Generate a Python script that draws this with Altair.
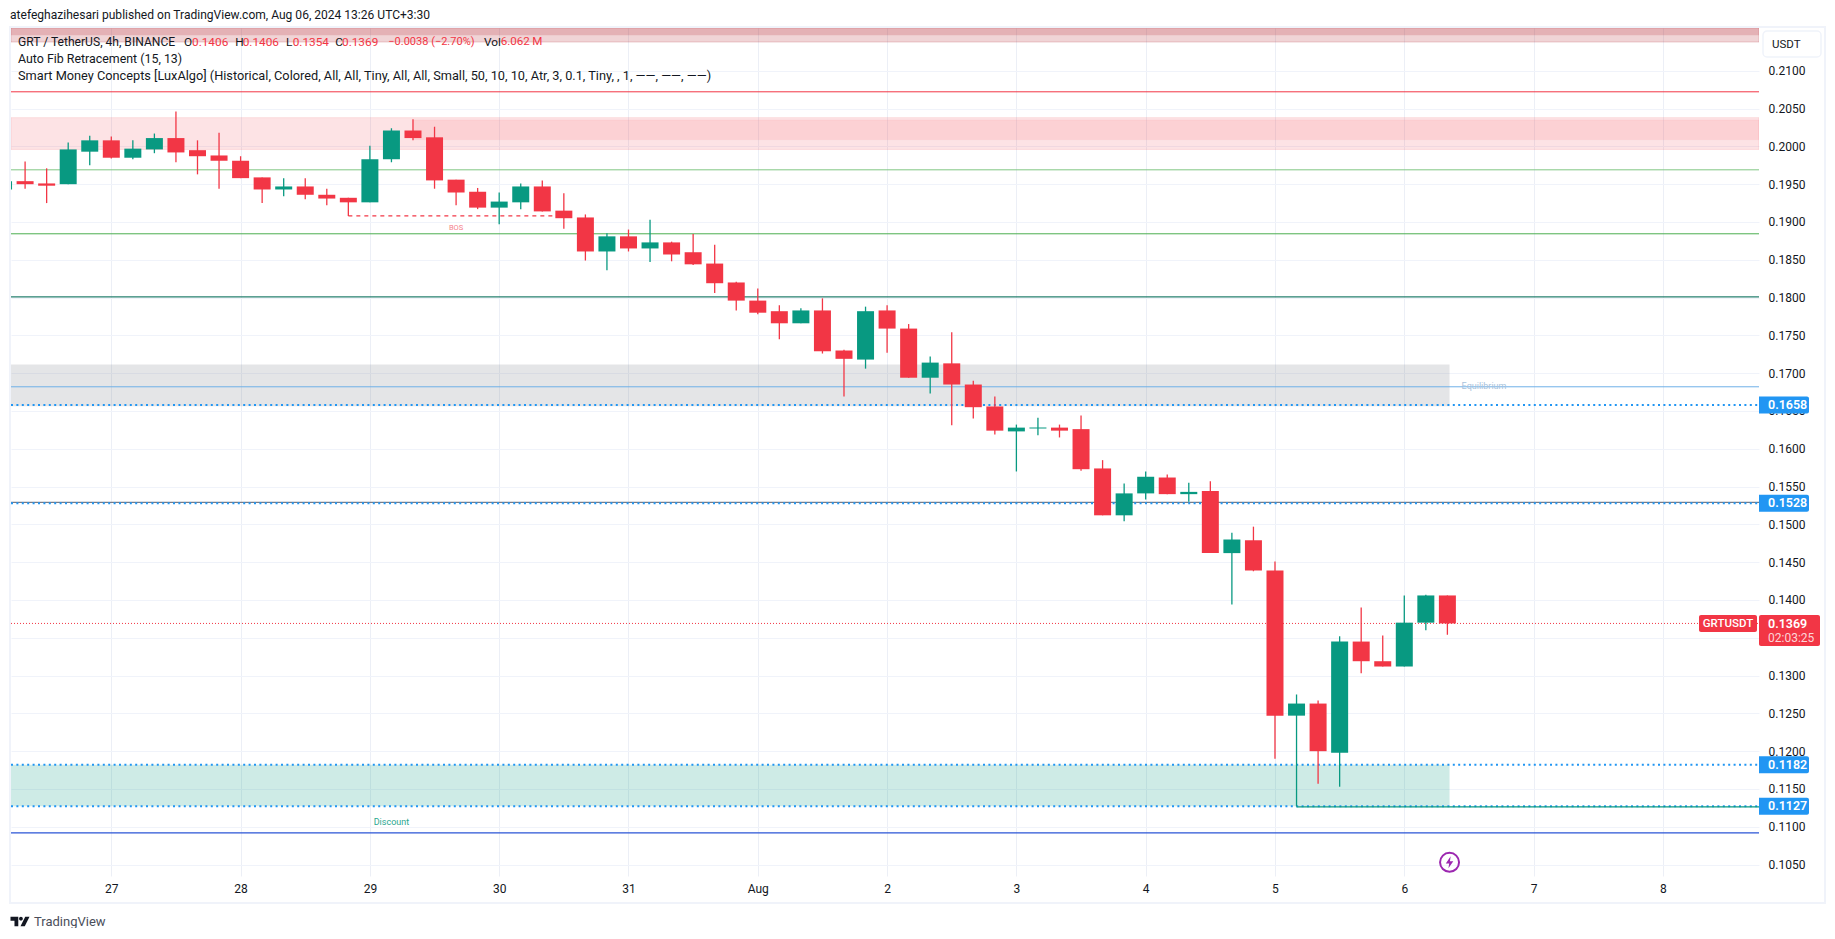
import altair as alt
import pandas as pd

# 4h candles, index 0 = 27 Jul 00:00
first_index = -5
opens  = [.1943,.1954,.1951,.1950,.1993,.2008,.1985,.1996,.2011,.1995,.1988,.1981,.1959,.1943,.1947,.1936,.1932,.1926,.1983,.2021,.2012,.1956,.1940,.1919,.1926,.1947,.1915,.1906,.1861,.1881,.1865,.1873,.1860,.1845,.1820,.1796,.1782,.1766,.1783,.1730,.1718,.1783,.1759,.1694,.1713,.1685,.1656,.1623,.1627,.1628,.1626,.1574,.1512,.1541,.1562,.1540,.1544,.1462,.1479,.1439,.1247,.1263,.1198,.1345,.1319,.1312,.1370,.1406]
highs  = [.1960,.1980,.1971,.2005,.2014,.2013,.2008,.2017,.2046,.2008,.2018,.1987,.1959,.1958,.1958,.1944,.1932,.2001,.2024,.2036,.2026,.1956,.1945,.1939,.1951,.1955,.1938,.1910,.1885,.1890,.1903,.1874,.1884,.1870,.1821,.1812,.1790,.1786,.1799,.1731,.1788,.1790,.1765,.1722,.1754,.1690,.1669,.1632,.1641,.1632,.1644,.1585,.1554,.1570,.1566,.1555,.1557,.1489,.1497,.1451,.1275,.1267,.1352,.1390,.1353,.1406,.1407,.1406]
lows   = [.1935,.1944,.1925,.1950,.1975,.1984,.1983,.1991,.1979,.1963,.1944,.1958,.1925,.1934,.1930,.1922,.1908,.1926,.1979,.2008,.1944,.1922,.1917,.1897,.1917,.1914,.1891,.1849,.1836,.1861,.1847,.1848,.1843,.1806,.1783,.1778,.1745,.1766,.1726,.1669,.1706,.1727,.1694,.1673,.1631,.1640,.1619,.1570,.1618,.1615,.1571,.1512,.1504,.1533,.1540,.1530,.1462,.1394,.1438,.1190,.1127,.1157,.1153,.1303,.1312,.1312,.1360,.1354]
closes = [.1954,.1950,.1948,.1996,.2008,.1985,.1997,.2011,.1992,.1987,.1981,.1958,.1943,.1947,.1936,.1931,.1926,.1983,.2021,.2011,.1955,.1939,.1919,.1927,.1947,.1914,.1905,.1861,.1881,.1865,.1873,.1857,.1844,.1819,.1796,.1780,.1766,.1783,.1729,.1719,.1782,.1759,.1694,.1714,.1685,.1655,.1624,.1628,.1628,.1624,.1573,.1512,.1541,.1563,.1540,.1543,.1462,.1480,.1439,.1247,.1263,.1200,.1345,.1319,.1312,.1370,.1406,.1369]

price_ticks = [.105,.11,.115,.12,.125,.13,.135,.14,.145,.15,.155,.16,.165,.17,.175,.18,.185,.19,.195,.20,.205,.21]
day_ticks = [0,6,12,18,24,30,36,42,48,54,60,66,72]
day_labels = ["27","28","29","30","31","Aug","2","3","4","5","6","7","8"]
marked_levels = [.1658, .1528, .1182, .1127]

GREEN, RED, BLUE = "#089981", "#f23645", "#2196f3"
INK = "#131722"

XDOM = [-4.654, 76.46]
YDOM = [.10349, .21566]
xs = alt.Scale(domain=XDOM, nice=False, zero=False, padding=0)
ys = alt.Scale(domain=YDOM, nice=False, zero=False, padding=0)

label_map = "{" + ",".join(f"'{t}':'{l}'" for t, l in zip(day_ticks, day_labels)) + "}"
x_axis = alt.Axis(title=None, values=day_ticks, labelExpr=label_map + "[datum.value]", grid=True,
                  gridColor="#eceff6", gridWidth=1, ticks=False, domain=False, labelPadding=7,
                  labelFont="Roboto", labelFontSize=12, labelColor=INK, labelAngle=0, labelFlush=False)
y_axis = alt.Axis(title=None, orient="right", values=price_ticks, format=".4f", grid=True,
                  gridColor="#f0f3fa", gridWidth=1, ticks=False, domain=False, labelPadding=9,
                  labelFont="Roboto", labelFontSize=12, labelColor=INK, labelFlush=False)

df = pd.DataFrame({
    "i": [first_index + k for k in range(len(opens))],
    "o": opens, "h": highs, "l": lows, "c": closes,
})
df["dir"] = ["up" if c >= o else "down" for o, c in zip(opens, closes)]
color = alt.Color("dir:N", scale=alt.Scale(domain=["up", "down"], range=[GREEN, RED]), legend=None)

blank = alt.Data(values=[{"k": 0}])
layers = []


def X(f="x"):
    return alt.X(f"{f}:Q", scale=xs, axis=x_axis)


def Y(f="y"):
    return alt.Y(f"{f}:Q", scale=ys, axis=y_axis)


def zone(top, bottom, start, end, fill, op, stroke=None, sop=0.0):
    d = pd.DataFrame({"x": [start], "x2": [end], "y": [top], "y2": [bottom]})
    kw = {"stroke": stroke, "strokeOpacity": sop, "strokeWidth": 1} if stroke else {}
    layers.append(alt.Chart(d).mark_rect(fill=fill, fillOpacity=op, clip=True, **kw).encode(
        x=X(), x2="x2:Q", y=Y(), y2="y2:Q"))


def level(price, col, width=1.0, dash=None, start=None, end=None):
    d = pd.DataFrame({"x": [XDOM[0] if start is None else start], "x2": [XDOM[1] if end is None else end], "y": [price]})
    kw = {"strokeDash": dash} if dash else {}
    layers.append(alt.Chart(d).mark_rule(color=col, strokeWidth=width, clip=True, **kw).encode(
        x=X(), x2="x2:Q", y=Y()))


def note(text, xi, p, col, size, **kw):
    d = pd.DataFrame({"x": [xi], "y": [p]})
    layers.append(alt.Chart(d).mark_text(text=text, color=col, fontSize=size, font="Roboto", **kw).encode(x=X(), y=Y()))


def px_text(text, x, y, col=INK, size=12, align="left", **kw):
    layers.append(alt.Chart(blank).mark_text(text=text, color=col, fontSize=size, font="Roboto",
                                             align=align, baseline="middle", **kw).encode(
        x=alt.value(x), y=alt.value(y)))


def px_box(x, x2, y, y2, **kw):
    layers.append(alt.Chart(blank).mark_rect(**kw).encode(
        x=alt.value(x), x2=alt.value(x2), y=alt.value(y), y2=alt.value(y2)))


# zones
zone(YDOM[1], .2147, XDOM[0], XDOM[1], "#b22833", .2)
zone(YDOM[1], .2138, XDOM[0], XDOM[1], "#b22833", .2, "#b22833", .2)
zone(.2038, .1996, XDOM[0], XDOM[1], RED, .14, RED, .12)
zone(.2035, .2009, 14, XDOM[1], RED, .10, RED, .05)
zone(.17115, .16564, XDOM[0], 62.1, "#787b86", .2)
zone(.1182, .1127, XDOM[0], 62.1, GREEN, .2)

# horizontal levels
level(.20722, RED)
level(.1969, "#81c784")
level(.18844, "#4caf50")
level(.1801, "#26806f", 1.2)
level(.1682, "#6fb0e8")
level(.1529, "#787b86", 1.2)
level(.1092, "#2a55d6", 1.2)
for lv in marked_levels:
    level(lv, BLUE, 2, [2, 3.4])
level(.1369, RED, 1, [1, 2])
level(.11264, GREEN, 1.3, None, 55)
level(.1908, RED, 1.3, [4, 4], 11, 21)

# candles
layers.append(alt.Chart(df).mark_rule(strokeWidth=1.3, clip=True).encode(
    x=alt.X("i:Q", scale=xs, axis=x_axis), y=alt.Y("h:Q", scale=ys, axis=y_axis), y2="l:Q", color=color))
layers.append(alt.Chart(df).mark_bar(size=17, clip=True, orient="vertical").encode(
    x=alt.X("i:Q", scale=xs, axis=x_axis), y=alt.Y("o:Q", scale=ys, axis=y_axis), y2="c:Q", color=color))

note("BOS", 16, .18918, "#f5818b", 7.5, align="center", baseline="middle")
note("Discount", 13, .11061, "#2aa78f", 9, align="center", baseline="middle")
note("Equilibrium", 63.7, .16837, "#a9c3dc", 9, align="center", baseline="middle")

# lightning icon
d_icon = pd.DataFrame({"x": [62.1], "y": [.1053]})
layers.append(alt.Chart(d_icon).mark_point(shape="circle", size=361, filled=False, stroke="#9c27b0", strokeWidth=2, opacity=1).encode(x=X(), y=Y()))
layers.append(alt.Chart(d_icon).mark_point(shape="M.15 -.8 L-.5 .15 H-.05 L-.15 .8 L.5 -.15 H.05 Z", size=225, filled=True, fill="#9c27b0", stroke=None, opacity=1).encode(x=X(), y=Y()))

# frame (plot origin is page 11,28)
px_box(-1, 1814, -1, 875, fill="transparent", stroke="#f0f3fa", strokeWidth=2)
px_box(1752, 1810, 3, 29, fill="white", stroke="#f0f3fa", strokeWidth=1.5, cornerRadius=4)
px_text("USDT", 1761, 16.5, size=11.5)

# header and legend
px_text("atefeghazihesari published on TradingView.com, Aug 06, 2024 13:26 UTC+3:30", -1, -13, size=12.05)
px_text("GRT / TetherUS, 4h, BINANCE", 7, 13.7, size=12.1)
for head, hx, val, vx in [("O", 173, "0.1406", 181), ("H", 224.3, "0.1406", 231.7), ("L", 275, "0.1354", 281.7), ("C", 324.3, "0.1369", 331)]:
    px_text(head, hx, 13.7, size=11.8)
    px_text(val, vx, 13.7, col=RED, size=11.8)
px_text("\u22120.0038 (\u22122.70%)", 377.3, 13.7, col=RED, size=11)
px_text("Vol", 473, 13.7, size=11.8)
px_text("6.062\u2009M", 489.7, 13.7, col=RED, size=11.6)
px_text("Auto Fib Retracement (15, 13)", 7, 31, size=12.4)
px_text("Smart Money Concepts [LuxAlgo] (Historical, Colored, All, All, Tiny, All, All, Small, 50, 10, 10, Atr, 3, 0.1, Tiny, , 1, \u2014\u2014, \u2014\u2014, \u2014\u2014)", 7, 48, size=12.75)

# price labels
for p in marked_levels:
    d = pd.DataFrame({"x": [XDOM[1]], "y": [p], "t": [f"{p:.4f}"]})
    layers.append(alt.Chart(d).mark_rect(fill=BLUE, width=50, height=17, clip=False, cornerRadiusBottomRight=2, cornerRadiusTopRight=2, xOffset=25).encode(
        x=X(), y=Y()))
    layers.append(alt.Chart(d).mark_text(color="white", fontSize=12.5, font="Roboto", fontWeight=600, align="left", baseline="middle", dx=9).encode(
        x=X(), y=Y(), text="t:N"))

px_box(1688, 1746, 587, 604, fill=RED, cornerRadius=2)
px_text("GRTUSDT", 1717, 595.5, col="white", size=11.5, align="center", fontWeight=500)
px_box(1748, 1809, 587, 618, fill=RED, cornerRadius=2)
px_text("0.1369", 1757, 595.5, col="white", size=12.5, fontWeight=600)
px_text("02:03:25", 1757, 610, col="#fcd5d8", size=12)

# watermark
layers.append(alt.Chart(blank).mark_point(shape="M-1 -.5 H-.18 V.5 H-.58 V-.08 H-1 Z M.1 -.5 A.2 .2 0 1 1 .1 -.1 A.2 .2 0 1 1 .1 -.5 Z M.55 -.5 H1 L.5 .5 H.05 Z",
    size=361, filled=True, fill=INK, stroke=None, opacity=1).encode(x=alt.value(9), y=alt.value(893.5)))
px_text("TradingView", 23, 893.5, col="#4a4e5a", size=13)

chart = alt.layer(*layers).properties(
    width=1748, height=848,
    padding={"left": 3, "top": 20, "right": 68, "bottom": 52},
    autosize=alt.AutoSizeParams(type="none"),
    background="white",
).configure_view(stroke=None)

chart.save("out.html", embed_options={"renderer": "svg", "actions": False})
